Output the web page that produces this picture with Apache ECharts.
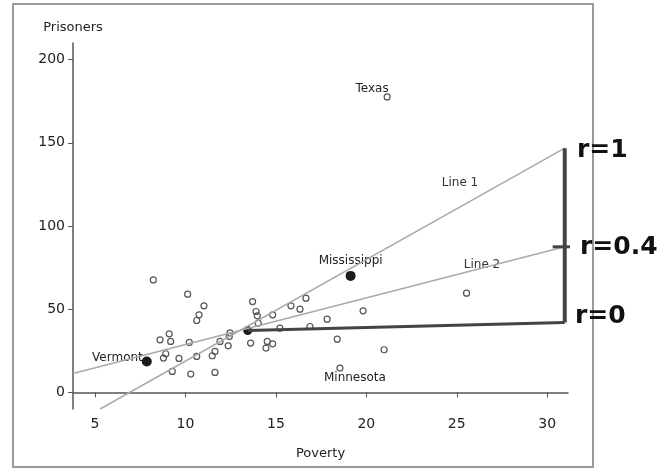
<!DOCTYPE html>
<html>
<head>
<meta charset="utf-8">
<script src="https://cdn.jsdelivr.net/npm/echarts@6/dist/echarts.min.js"></script>
<style>html,body{margin:0;padding:0;background:#fff}#c{width:670px;height:472px}</style>
</head>
<body>
<div id="c"></div>
<script>
// Poverty (x) vs Prisoners (y) — unlabelled states
const statePoints = [
  [8.22,67.6],[10.12,59.0],[11.02,52.0],[10.75,46.6],[10.62,43.2],[9.10,35.2],[8.59,31.6],
  [9.18,30.6],[10.21,30.0],[8.91,23.2],[8.78,20.6],[9.64,20.4],[10.62,21.6],[9.27,12.6],
  [10.29,11.0],[11.63,12.0],[11.48,22.0],[11.63,24.6],[11.91,30.6],[12.42,33.6],[12.36,28.0],
  [13.71,54.6],[13.90,48.6],[13.97,46.0],[14.02,41.6],[14.82,46.6],[15.83,52.0],[16.33,50.0],
  [16.66,56.6],[15.22,38.6],[13.60,29.6],[14.45,26.6],[14.52,30.6],[14.82,29.2],[16.88,39.6],
  [17.83,44.0],[18.39,32.0],[19.82,49.0],[20.98,25.6],[25.54,59.6],[12.46,35.8]
];
// labelled hollow points
const texas = [21.15,177.6];
const minnesota = [18.54,14.6];
// labelled filled points
const mississippi = [19.13,70.0];
const vermont = [7.86,18.6];
const meanPoint = [13.44,37.2];
// lines
const line1 = [[5.28,-10],[30.97,146.8]];
const line2 = [[3.78,11.3],[30.97,87.5]];
const lineR0 = [[13.44,37.2],[30.97,42.0]];
const bracket = [[30.97,146.8],[30.97,42.0]];
const tickR04 = [[30.3,87.5],[31.6,87.5]];
// axis ticks
const xTicks = [5,10,15,20,25,30];
const yTicks = [0,50,100,150,200];

const FONT = 'DejaVu Sans';
const chart = echarts.init(document.getElementById('c'));
const lbl = {fontFamily: FONT, fontSize: 12, color: '#222'};
const hollow = {color: 'rgba(255,255,255,0)', borderColor: '#555', borderWidth: 1.2, opacity: 1};
const filled = {color: '#1a1a1a', opacity: 1};
chart.setOption({
  animation: false,
  backgroundColor: '#fff',
  grid: {left: 73, right: 102, top: 43, bottom: 63},
  xAxis: {
    type: 'value', min: 3.78, max: 31.15,
    name: 'Poverty', nameLocation: 'middle', nameGap: 38,
    nameTextStyle: {fontFamily: FONT, fontSize: 13, color: '#222'},
    axisLine: {lineStyle: {color: '#555', width: 1.5}},
    axisTick: {show: true, length: 5, customValues: xTicks, lineStyle: {color: '#555'}},
    axisLabel: {customValues: xTicks, fontFamily: FONT, fontSize: 14, color: '#222', margin: 8},
    splitLine: {show: false}
  },
  yAxis: {
    type: 'value', min: -10, max: 210,
    name: 'Prisoners', nameLocation: 'end', nameGap: 9,
    nameTextStyle: {fontFamily: FONT, fontSize: 13, color: '#222', align: 'center'},
    axisLine: {show: true, lineStyle: {color: '#555', width: 1.5}},
    axisTick: {show: true, length: 5, customValues: yTicks, lineStyle: {color: '#555'}},
    axisLabel: {customValues: yTicks, fontFamily: FONT, fontSize: 14, color: '#222', margin: 8},
    splitLine: {show: false}
  },
  series: [
    {type: 'line', data: line1, symbol: 'none', lineStyle: {color: '#aaa', width: 1.5}},
    {type: 'line', data: line2, symbol: 'none', lineStyle: {color: '#aaa', width: 1.5}},
    {type: 'line', data: lineR0, symbol: 'none', lineStyle: {color: '#444', width: 3}},
    {type: 'line', data: bracket, symbol: 'none', clip: false, lineStyle: {color: '#444', width: 4}},
    {type: 'line', data: tickR04, symbol: 'none', clip: false, lineStyle: {color: '#444', width: 3}},
    {type: 'scatter', data: statePoints, symbol: 'circle', symbolSize: 6, itemStyle: hollow},
    {type: 'scatter', data: [texas], symbol: 'circle', symbolSize: 6, itemStyle: hollow,
      label: {show: true, formatter: 'Texas', position: 'inside', offset: [-15, -8], ...lbl}},
    {type: 'scatter', data: [minnesota], symbol: 'circle', symbolSize: 6, itemStyle: hollow,
      label: {show: true, formatter: 'Minnesota', position: 'inside', offset: [15, 10], ...lbl}},
    {type: 'scatter', data: [mississippi], symbol: 'circle', symbolSize: 10, itemStyle: filled,
      label: {show: true, formatter: 'Mississippi', position: 'top', distance: 4, ...lbl}},
    {type: 'scatter', data: [vermont], symbol: 'circle', symbolSize: 10, itemStyle: filled,
      label: {show: true, formatter: 'Vermont', position: 'left', distance: -1, offset: [0, -4], ...lbl}},
    {type: 'scatter', data: [meanPoint], symbol: 'circle', symbolSize: 9, itemStyle: filled}
  ],
  graphic: [
    {type: 'rect', shape: {x: 13, y: 4, width: 580, height: 463}, silent: true,
      style: {fill: 'none', stroke: '#9a9a9a', lineWidth: 2}},
    {type: 'text', x: 460, y: 183, style: {text: 'Line 1', fontFamily: FONT, fontSize: 12, fill: '#333', align: 'center', verticalAlign: 'middle'}},
    {type: 'text', x: 482, y: 265, style: {text: 'Line 2', fontFamily: FONT, fontSize: 12, fill: '#333', align: 'center', verticalAlign: 'middle'}},
    {type: 'text', x: 577, y: 150, style: {text: 'r=1', fontFamily: FONT, fontSize: 25, fontWeight: 'bold', fill: '#111', verticalAlign: 'middle'}},
    {type: 'text', x: 580, y: 247, style: {text: 'r=0.4', fontFamily: FONT, fontSize: 25, fontWeight: 'bold', fill: '#111', verticalAlign: 'middle'}},
    {type: 'text', x: 575, y: 316, style: {text: 'r=0', fontFamily: FONT, fontSize: 25, fontWeight: 'bold', fill: '#111', verticalAlign: 'middle'}}
  ]
});
</script>
</body>
</html>
